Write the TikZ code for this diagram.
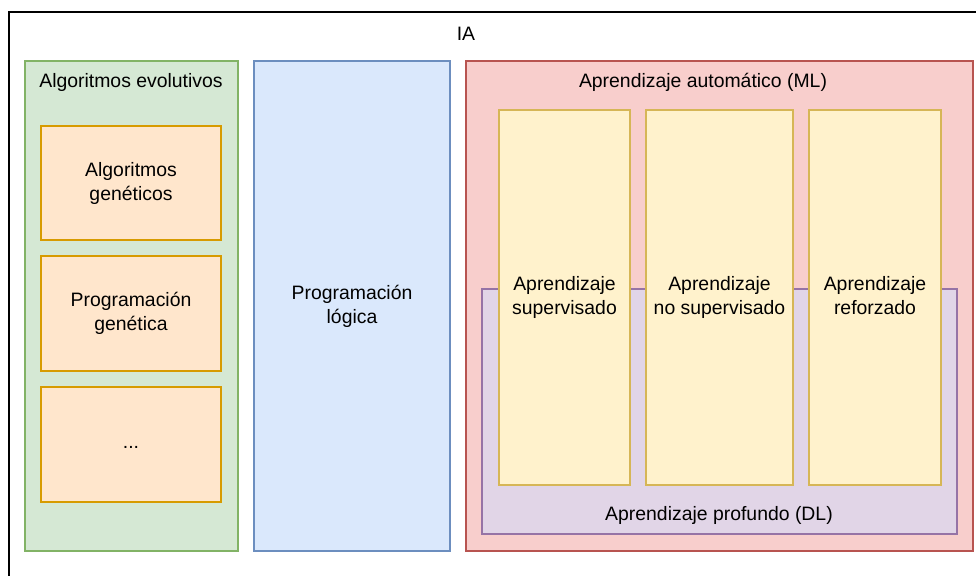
\documentclass[tikz,border=0pt]{standalone}
\usepackage{fontspec}
\setmainfont{Liberation Sans}
\definecolor{gfill}{HTML}{D5E8D4}\definecolor{gdraw}{HTML}{82B366}
\definecolor{ofill}{HTML}{FFE6CC}\definecolor{odraw}{HTML}{D79B00}
\definecolor{bfill}{HTML}{DAE8FC}\definecolor{bdraw}{HTML}{6C8EBF}
\definecolor{rfill}{HTML}{F8CECC}\definecolor{rdraw}{HTML}{B85450}
\definecolor{pfill}{HTML}{E1D5E7}\definecolor{pdraw}{HTML}{9673A6}
\definecolor{yfill}{HTML}{FFF2CC}\definecolor{ydraw}{HTML}{D6B656}
\begin{document}
\begin{tikzpicture}[x=1pt,y=-1pt,
  every node/.style={font=\fontsize{19.4}{24}\selectfont, align=center, inner sep=0pt},
  box/.style={draw, line width=1.3pt, rectangle},
  lbl/.style={}]
\useasboundingbox (0,0) rectangle (976,575);
\clip (0,0) rectangle (976,575);
% outer frame
\draw[line width=1.8pt] (9,600) -- (9,12) -- (1000,12);
\node[lbl] (ia) at (466,34) {IA};
% green
\node[box, fill=gfill, draw=gdraw, minimum width=213pt, minimum height=490pt] (evo) at (131.5,306) {};
\node[lbl] (evot) at (131,82) {Algoritmos evolutivos};
\node[box, fill=ofill, draw=odraw, minimum width=180pt, minimum height=114pt] (ag) at (131,183) {Algoritmos\\genéticos};
\node[box, fill=ofill, draw=odraw, minimum width=180pt, minimum height=115pt] (pg) at (131,313.5) {Programación\\genética};
\node[box, fill=ofill, draw=odraw, minimum width=180pt, minimum height=115pt] (dots) at (131,444.5) {\smash{\raisebox{-4pt}{...}}};
% blue
\node[box, fill=bfill, draw=bdraw, minimum width=196pt, minimum height=490pt] (pl) at (352,306) {Programación\\lógica};
% red
\node[box, fill=rfill, draw=rdraw, minimum width=507pt, minimum height=490pt] (ml) at (719.5,306) {};
\node[lbl] (mlt) at (703,82) {Aprendizaje automático (ML)};
% purple
\node[box, fill=pfill, draw=pdraw, minimum width=475pt, minimum height=245pt] (dl) at (719.5,411.5) {};
\node[lbl] (dlt) at (719,515) {Aprendizaje profundo (DL)};
% yellow
\node[box, fill=yfill, draw=ydraw, minimum width=131pt, minimum height=375pt] (sup) at (564.5,297.5) {Aprendizaje\\supervisado};
\node[box, fill=yfill, draw=ydraw, minimum width=147pt, minimum height=375pt] (nsup) at (719.5,297.5) {Aprendizaje\\no supervisado};
\node[box, fill=yfill, draw=ydraw, minimum width=132pt, minimum height=375pt] (ref) at (875,297.5) {Aprendizaje\\reforzado\vphantom{p}};
\end{tikzpicture}
\end{document}
